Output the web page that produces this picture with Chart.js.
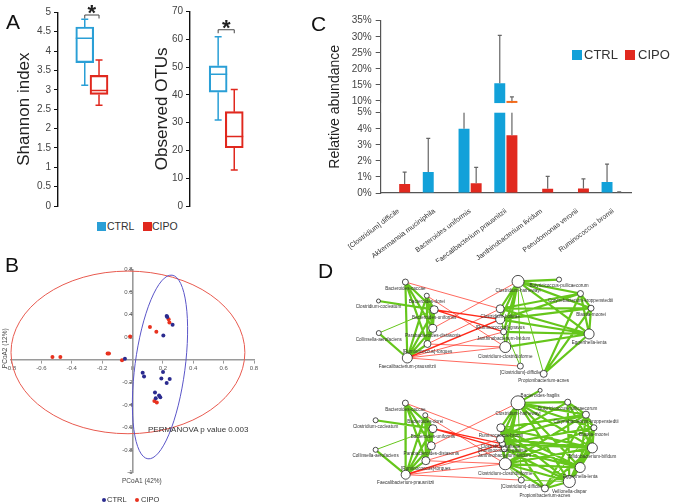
<!DOCTYPE html>
<html>
<head>
<meta charset="utf-8">
<script src="https://cdn.jsdelivr.net/npm/chart.js@4.4.1/dist/chart.umd.min.js"></script>
<style>
  body { margin: 0; background: #fff; font-family: "Liberation Sans", Arial, sans-serif; }
  #page { position: relative; width: 685px; height: 504px; overflow: hidden; }
  canvas { position: absolute; }
  .txt { position: absolute; color: #333; white-space: nowrap; line-height: 1; }
  .letter { font-size: 21px; color: #111; }
  .sq { position: absolute; }
  .dot { position: absolute; width: 4px; height: 4px; border-radius: 50%; }
</style>
</head>
<body>
<div id="page">
  <canvas id="shannon" width="128" height="215" style="left:0;top:0"></canvas>
  <canvas id="otus" width="135" height="215" style="left:130px;top:0"></canvas>
  <canvas id="abund" width="375" height="262" style="left:310px;top:0"></canvas>
  <canvas id="pcoa" width="290" height="242" style="left:0;top:262px"></canvas>
  <canvas id="network" width="395" height="236" style="left:290px;top:268px"></canvas>

  <div class="txt letter" style="left:6px;top:11px">A</div>
  <div class="txt letter" style="left:5px;top:254px">B</div>
  <div class="txt letter" style="left:311px;top:13px">C</div>
  <div class="txt letter" style="left:318px;top:260px">D</div>

  <!-- legend A -->
  <div class="sq" style="left:97px;top:222px;width:9px;height:9px;background:#2a9fd6"></div>
  <div class="txt" style="left:107px;top:221px;font-size:10.5px">CTRL</div>
  <div class="sq" style="left:143px;top:222px;width:9px;height:9px;background:#e0281e"></div>
  <div class="txt" style="left:152px;top:221px;font-size:10.5px">CIPO</div>

  <!-- legend C -->
  <div class="sq" style="left:572px;top:50px;width:10px;height:10px;background:#12a1d9"></div>
  <div class="txt" style="left:584px;top:48px;font-size:13px">CTRL</div>
  <div class="sq" style="left:625px;top:50px;width:10px;height:10px;background:#e1291f"></div>
  <div class="txt" style="left:638px;top:48px;font-size:13px">CIPO</div>

  <!-- panel B texts -->
  <div class="txt" style="left:148px;top:426px;font-size:8px">PERMANOVA p value 0.003</div>
  <div class="txt" style="left:122px;top:478px;font-size:6.5px;color:#444">PCoA1 (42%)</div>
  <div class="txt" style="left:-15px;top:345px;font-size:6.5px;color:#444;transform:rotate(-90deg)">PCoA2 (12%)</div>
  <div class="dot" style="left:102px;top:498px;background:#2b2b8f"></div>
  <div class="txt" style="left:107px;top:496px;font-size:7.5px">CTRL</div>
  <div class="dot" style="left:135px;top:498px;background:#e8321f"></div>
  <div class="txt" style="left:141px;top:496px;font-size:7.5px">CIPO</div>
</div>

<script>
Chart.defaults.font.family = '"Liberation Sans", Arial, sans-serif';
Chart.defaults.animation = false;
Chart.defaults.responsive = false;
Chart.defaults.plugins.legend.display = false;
Chart.defaults.plugins.tooltip.enabled = false;

const BLUE = '#2a9fd6';
const RED = '#e0281e';

// ---------- A: alpha diversity (min, q1, median, q3, max)
const groups = ['CTRL', 'CIPO'];
const shannonCtrl = [3.12, 3.70, 4.33, 4.62, 4.82];
const shannonCipo = [2.60, 2.88, 2.98, 3.37, 3.77];
const otuCtrl = [31, 41, 47.5, 50.5, 61];
const otuCipo = [13, 21, 25, 34, 42];

// ---------- C: relative abundance (%)
const species = ['[Clostridium] difficile', 'Akkermansia muciniphila', 'Bacteroides uniformis',
  'Faecalibacterium prausnitzii', 'Janthinobacterium lividum', 'Pseudomonas veronii', 'Ruminococcus bromii'];
const ctrlAbund = [0, 1.3, 4.0, 15.5, 0, 0, 0.68];
const ctrlErrTop = [null, 3.4, 6, 30.4, null, null, 1.8];
const cipoAbund = [0.56, 0, 0.6, 3.6, 0.27, 0.28, 0.03];
const cipoErrTop = [1.3, null, 1.6, 11.3, 1.03, 0.88, 0.07];
const cipoUpperMark = [null, null, null, 9.6, null, null, null];
const abundTicks = [0, 1, 2, 3, 4, 5, 10, 15, 20, 25, 30, 35];

// ---------- B: PCoA
const ctrlPcoa = [[0.225, 0.388], [0.229, 0.379], [0.264, 0.309], [0.203, 0.214], [0.067, -0.114],
  [0.076, -0.149], [0.201, -0.108], [0.19, -0.167], [0.225, -0.205], [0.245, -0.17], [0.148, -0.291],
  [0.153, -0.341], [0.175, -0.317], [0.183, -0.332], [-0.05, 0.01]];
const cipoPcoa = [[-0.527, 0.025], [-0.475, 0.025], [-0.164, 0.055], [-0.155, 0.055], [-0.069, -0.004],
  [-0.016, 0.205], [0.115, 0.291], [0.157, 0.249], [0.238, 0.359], [0.243, 0.329], [0.144, -0.365], [0.16, -0.379]];
// centre x, centre y, radius x, radius y, rotation (deg)
const cipoEllipse = [-0.03, 0.065, 0.77, 0.72, 0];
const ctrlEllipse = [0.181, -0.064, 0.165, 0.82, 7.5];

// ---------- D: co-occurrence networks (name, layout x, layout y, size)
const topNodes = [
  ['Bacteroides-caccae', 112, 6.7, 3], ['Clostridium-cocleatum', 84, 27, 2], ['Bacteroides-dorei', 134.3, 21.3, 2.5],
  ['Bacteroides-uniformis', 142, 36.3, 4], ['Collinsella-aerofaciens', 84.3, 61.3, 2.5],
  ['Parabacteroides-distasonis', 140.5, 56.3, 4], ['[Ruminococcus]-torques', 135, 73, 3.5],
  ['Faecalibacterium-prausnitzii', 114, 88, 5], ['Clostridium-hathewayi', 229.3, 6, 6],
  ['Butyricicoccus-pullicaecorum', 272, 4, 2.5], ['Corynebacterium-kroppenstedtii', 294.3, 19, 3],
  ['Blautia-moorei', 305.3, 34.7, 3], ['Eggerthella-lenta', 303.3, 62.3, 5], ['Propionibacterium-acnes', 256, 105, 3.5],
  ['[Clostridium]-difficile', 231.7, 96.7, 3], ['Clostridium-clostridioforme', 216, 76.3, 5.5],
  ['Janthinobacterium-lividum', 214.3, 60, 3], ['[Ruminococcus]-gnavus', 210.7, 46.7, 4.5],
  ['Clostridium-bolteae', 210.7, 35.3, 4]
];
const topGreenThick = [[0, 3], [0, 5], [0, 6], [0, 7], [1, 3], [2, 3], [2, 5], [2, 6], [3, 5], [3, 6], [3, 7], [5, 6],
  [5, 7], [6, 7], [4, 7], [2, 7], [8, 9], [8, 18], [8, 17], [8, 16], [8, 15], [8, 12], [8, 10], [12, 18], [12, 17],
  [12, 16], [12, 15], [10, 18], [10, 17], [11, 17], [13, 12], [13, 11], [13, 10], [10, 11], [11, 12], [10, 12],
  [8, 11], [11, 18]];
const topGreenThin = [[4, 3], [8, 14], [8, 13], [18, 15], [17, 14], [15, 16]];
const topRedThick = [[3, 17], [3, 16], [7, 17]];
const topRedThin = [[0, 18], [2, 15], [5, 8], [6, 18], [7, 16], [7, 15], [7, 14], [6, 15]];

const bottomNodes = [
  ['Bacteroides-caccae', 112, 136.3, 3], ['Clostridium-cocleatum', 81, 154.7, 2.5], ['Bacteroides-dorei', 132.7, 149.3, 2.5],
  ['Bacteroides-uniformis', 140.7, 163.7, 4], ['Collinsella-aerofaciens', 81, 186.3, 2.5],
  ['Parabacteroides-distasonis', 139, 182, 4], ['[Ruminococcus]-torques', 133.3, 198, 4],
  ['Faecalibacterium-prausnitzii', 112.3, 213, 4.5], ['Clostridium-hathewayi', 229.3, 136, 7],
  ['Bacteroides-fragilis', 252.3, 122.7, 2], ['Butyricicoccus-pullicaecorum', 281, 135.3, 3],
  ['Corynebacterium-kroppenstedtii', 300, 148.7, 3.5], ['Blautia-moorei', 308.3, 162.7, 3],
  ['Bifidobacterium-bifidum', 306.7, 184.3, 5], ['Eggerthella-lenta', 294, 205.3, 5], ['Veillonella-dispar', 282.7, 220.3, 6],
  ['Propionibacterium-acnes', 257.3, 227.7, 3.5], ['[Clostridium]-difficile', 232.7, 218.7, 3],
  ['Clostridium-clostridioforme', 216, 201.3, 6], ['Janthinobacterium-lividum', 215, 185.3, 3],
  ['[Ruminococcus]-gnavus', 213, 180, 3], ['Clostridium-bolteae', 211, 174.7, 4], ['Ruminococcus-bromii', 211.3, 162.7, 4]
];
const bottomGreenThick = [[0, 3], [0, 5], [0, 6], [0, 7], [1, 3], [2, 3], [2, 5], [2, 6], [3, 5], [3, 6], [3, 7], [5, 6],
  [5, 7], [6, 7], [4, 7], [2, 7], [8, 9], [8, 10], [8, 11], [8, 12], [8, 13], [8, 14], [8, 15], [8, 18], [8, 21], [8, 22],
  [8, 19], [10, 11], [10, 13], [10, 15], [10, 21], [11, 12], [11, 13], [11, 14], [11, 18], [11, 21], [11, 22], [12, 13],
  [12, 14], [12, 15], [12, 18], [13, 14], [13, 15], [13, 18], [13, 21], [13, 22], [13, 20], [14, 15], [14, 18], [14, 19],
  [14, 21], [14, 22], [15, 16], [15, 18], [15, 19], [15, 22], [16, 18], [16, 22], [16, 11], [16, 13], [18, 21], [18, 22],
  [19, 22], [21, 14], [22, 15], [20, 12]];
const bottomGreenThin = [[4, 3], [8, 17], [17, 18], [15, 17], [10, 12], [16, 12]];
const bottomRedThick = [[3, 20], [3, 19], [7, 20]];
const bottomRedThin = [[0, 21], [2, 18], [5, 8], [6, 21], [7, 19], [7, 17], [7, 18], [6, 18]];

// ---------- A: box plots
const boxPlugin = {
  id: 'boxes',
  afterDatasetsDraw(chart, args, opts) {
    const { ctx, scales: { x, y } } = chart;
    opts.boxes.forEach((b, i) => {
      const cx = x.getPixelForValue(i);
      const half = opts.half;
      ctx.save();
      ctx.strokeStyle = opts.colors[i];
      ctx.lineWidth = 1.5;
      ctx.beginPath();
      ctx.moveTo(cx - half, y.getPixelForValue(b[2]));
      ctx.lineTo(cx + half, y.getPixelForValue(b[2]));
      ctx.moveTo(cx, y.getPixelForValue(b[3]));
      ctx.lineTo(cx, y.getPixelForValue(b[4]));
      ctx.moveTo(cx, y.getPixelForValue(b[1]));
      ctx.lineTo(cx, y.getPixelForValue(b[0]));
      ctx.moveTo(cx - 3.5, y.getPixelForValue(b[4]));
      ctx.lineTo(cx + 3.5, y.getPixelForValue(b[4]));
      ctx.moveTo(cx - 3.5, y.getPixelForValue(b[0]));
      ctx.lineTo(cx + 3.5, y.getPixelForValue(b[0]));
      ctx.stroke();
      ctx.restore();
    });
    // significance bracket
    const x0 = x.getPixelForValue(0), x1 = x.getPixelForValue(1);
    const yb = y.getPixelForValue(opts.sig);
    ctx.save();
    ctx.strokeStyle = '#444';
    ctx.lineWidth = 1;
    ctx.beginPath();
    ctx.moveTo(x0, yb + 3.5);
    ctx.lineTo(x0, yb);
    ctx.lineTo(x1, yb);
    ctx.lineTo(x1, yb + 3.5);
    ctx.stroke();
    ctx.fillStyle = '#222';
    ctx.font = 'bold 22px "Liberation Sans", Arial, sans-serif';
    ctx.textAlign = 'center';
    ctx.fillText('*', (x0 + x1) / 2, yb + 5);
    ctx.restore();
  }
};

function boxChart(id, boxes, o) {
  return new Chart(document.getElementById(id), {
    type: 'bar',
    data: {
      datasets: [{
        data: boxes.map((b, i) => ({ x: i, y: [b[1], b[3]] })),
        backgroundColor: 'rgba(255,255,255,0)',
        borderColor: [BLUE, RED],
        borderWidth: 1.5,
        borderSkipped: false,
        barThickness: o.boxWidth
      }]
    },
    options: {
      layout: { padding: o.padding },
      plugins: { boxes: { boxes, colors: [BLUE, RED], sig: o.sig, half: o.boxWidth / 2 } },
      scales: {
        x: { type: 'linear', display: false, min: o.xMin, max: o.xMax },
        y: {
          min: 0, max: o.yMax,
          ticks: { stepSize: o.step, color: '#444', font: { size: 10 }, padding: 3, callback: v => String(+v.toFixed(1)) },
          grid: { drawOnChartArea: false, tickLength: 4, color: '#111' },
          border: { color: '#111', width: 1.4 },
          title: { display: true, text: o.title, color: '#222', font: { size: 17 }, padding: { top: o.titlePad, bottom: 0 } },
          afterFit: s => { s.width = o.axisWidth; }
        }
      }
    },
    plugins: [boxPlugin]
  });
}

boxChart('shannon', [shannonCtrl, shannonCipo], {
  boxWidth: 18, padding: { top: 12.3, bottom: 6.7, right: 2 }, xMin: -0.684, xMax: 1.7,
  yMax: 5, step: 0.5, title: 'Shannon index', titlePad: 14, axisWidth: 58, sig: 4.93
});
boxChart('otus', [otuCtrl, otuCipo], {
  boxWidth: 18, padding: { top: 11.7, bottom: 7, right: 2 }, xMin: -0.615, xMax: 1.652,
  yMax: 70, step: 10, title: 'Observed OTUs', titlePad: 22, axisWidth: 60, sig: 63.5
});

// ---------- C: broken-axis bar chart
function brk(v) {
  if (v <= 5) return v;
  if (v < 10) return 5 + (v - 5) * 0.146;
  return 5.73 + (v - 10) / 5;
}

const errorPlugin = {
  id: 'errs',
  afterDatasetsDraw(chart) {
    const { ctx, chartArea, scales: { y } } = chart;
    ctx.save();
    ctx.strokeStyle = '#666';
    ctx.lineWidth = 1.2;
    [ctrlErrTop, cipoErrTop].forEach((tops, di) => {
      const meta = chart.getDatasetMeta(di);
      meta.data.forEach((bar, i) => {
        if (tops[i] == null) return;
        const yt = y.getPixelForValue(brk(tops[i]));
        ctx.beginPath();
        ctx.moveTo(bar.x, bar.y);
        ctx.lineTo(bar.x, yt);
        ctx.moveTo(bar.x - 2, yt);
        ctx.lineTo(bar.x + 2, yt);
        ctx.stroke();
      });
    });
    // axis break
    const yHi = y.getPixelForValue(5.6), yLo = y.getPixelForValue(5);
    ctx.fillStyle = '#fff';
    ctx.fillRect(chartArea.left + 1, yHi, chartArea.width, yLo - yHi);
    // CIPO value above the break
    const meta = chart.getDatasetMeta(1);
    ctx.strokeStyle = '#f26a1b';
    ctx.lineWidth = 2;
    cipoUpperMark.forEach((v, i) => {
      if (v == null) return;
      const bar = meta.data[i];
      const ym = y.getPixelForValue(brk(v));
      ctx.beginPath();
      ctx.moveTo(bar.x - bar.width / 2, ym);
      ctx.lineTo(bar.x + bar.width / 2, ym);
      ctx.stroke();
    });
    ctx.restore();
  }
};

new Chart(document.getElementById('abund'), {
  type: 'bar',
  data: {
    labels: species,
    datasets: [
      { label: 'CTRL', data: ctrlAbund.map(brk), backgroundColor: '#12a1d9', categoryPercentage: 0.68, barPercentage: 0.9 },
      { label: 'CIPO', data: cipoAbund.map(brk), backgroundColor: '#e1291f', categoryPercentage: 0.68, barPercentage: 0.9 }
    ]
  },
  options: {
    layout: { padding: { top: 20.7, right: 54 } },
    scales: {
      x: {
        grid: { display: false },
        border: { color: '#555', width: 1.2 },
        ticks: { color: '#333', font: { size: 7 }, minRotation: 37, maxRotation: 37, autoSkip: false, padding: 6 },
        afterFit: s => { s.height = 69; }
      },
      y: {
        min: 0, max: brk(35),
        afterBuildTicks: s => { s.ticks = abundTicks.map(v => ({ value: brk(v) })); },
        ticks: { autoSkip: false, callback: (v, i) => abundTicks[i] + '%', color: '#444', font: { size: 10 }, padding: 4 },
        grid: { drawOnChartArea: false, tickLength: 5, color: '#555' },
        border: { color: '#555', width: 1.2 },
        title: { display: true, text: 'Relative abundance', color: '#222', font: { size: 14 }, padding: { top: 16.6, bottom: 0 } },
        afterFit: s => { s.width = 70.7; }
      }
    }
  },
  plugins: [errorPlugin]
});

// ---------- B: PCoA scatter
const ellipsePlugin = {
  id: 'ellipses',
  beforeDatasetsDraw(chart) {
    const { ctx, scales: { x, y } } = chart;
    [[cipoEllipse, '#e85a4f'], [ctrlEllipse, '#5a55c8']].forEach(([e, col]) => {
      const cx = x.getPixelForValue(e[0]), cy = y.getPixelForValue(e[1]);
      const rx = Math.abs(x.getPixelForValue(e[0] + e[2]) - cx);
      const ry = Math.abs(y.getPixelForValue(e[1] + e[3]) - cy);
      ctx.save();
      ctx.strokeStyle = col;
      ctx.lineWidth = 1;
      ctx.beginPath();
      ctx.ellipse(cx, cy, rx, ry, e[4] * Math.PI / 180, 0, Math.PI * 2);
      ctx.stroke();
      ctx.restore();
    });
  }
};

const fmt = v => (Math.abs(v) < 1e-9 ? '0' : String(+v.toFixed(1)));

new Chart(document.getElementById('pcoa'), {
  type: 'scatter',
  data: {
    datasets: [
      { data: ctrlPcoa.map(p => ({ x: p[0], y: p[1] })), backgroundColor: '#2b2b8f', borderWidth: 0, pointRadius: 2 },
      { data: cipoPcoa.map(p => ({ x: p[0], y: p[1] })), backgroundColor: '#e8321f', borderWidth: 0, pointRadius: 2 }
    ]
  },
  options: {
    layout: { padding: { left: 11, right: 36, top: 7.4, bottom: 31.3 } },
    scales: {
      x: {
        type: 'linear', position: { y: 0 }, min: -0.8, max: 0.8,
        ticks: { stepSize: 0.2, color: '#555', font: { size: 6 }, padding: 2, autoSkip: false, maxRotation: 0, callback: fmt },
        grid: { drawOnChartArea: false, tickLength: 3, color: '#999' },
        border: { color: '#9a9a9a', width: 1.6 }
      },
      y: {
        type: 'linear', position: { x: 0 }, min: -1, max: 0.8,
        ticks: { stepSize: 0.2, color: '#555', font: { size: 6 }, padding: 2, autoSkip: false, callback: v => (Math.abs(v) < 1e-9 ? '' : fmt(v)) },
        grid: { drawOnChartArea: false, tickLength: 3, color: '#999' },
        border: { color: '#9a9a9a', width: 1.6 }
      }
    }
  },
  plugins: [ellipsePlugin]
});

// ---------- D: networks
function edgeSet(nodes, pairs, color, width) {
  const data = [];
  pairs.forEach(([a, b]) => {
    data.push({ x: nodes[a][1], y: nodes[a][2] }, { x: nodes[b][1], y: nodes[b][2] }, { x: NaN, y: NaN });
  });
  return { data, showLine: true, borderColor: color, borderWidth: width, pointRadius: 0, clip: false, order: 2 };
}

function nodeSet(nodes) {
  return {
    data: nodes.map(n => ({ x: n[1], y: n[2] })),
    pointRadius: nodes.map(n => n[3]),
    pointBackgroundColor: '#fff',
    pointBorderColor: '#222',
    pointBorderWidth: 0.8,
    showLine: false,
    clip: false,
    order: 0
  };
}

const GREEN = '#66c61c';
const NETRED = '#ff2a1a';

const labelPlugin = {
  id: 'nodeLabels',
  afterDatasetsDraw(chart) {
    const { ctx, scales: { x, y } } = chart;
    ctx.save();
    ctx.fillStyle = '#333';
    ctx.font = '4.6px "Liberation Sans", Arial, sans-serif';
    ctx.textAlign = 'center';
    ctx.textBaseline = 'top';
    [topNodes, bottomNodes].forEach(nodes => {
      nodes.forEach(n => {
        ctx.fillText(n[0], x.getPixelForValue(n[1]), y.getPixelForValue(n[2]) + n[3] + 1.5);
      });
    });
    ctx.restore();
  }
};

new Chart(document.getElementById('network'), {
  type: 'scatter',
  data: {
    datasets: [
      nodeSet(topNodes),
      nodeSet(bottomNodes),
      edgeSet(topNodes, topRedThin, NETRED, 0.7),
      edgeSet(topNodes, topRedThick, NETRED, 1.4),
      edgeSet(topNodes, topGreenThin, GREEN, 1),
      edgeSet(topNodes, topGreenThick, GREEN, 2.2),
      edgeSet(bottomNodes, bottomRedThin, NETRED, 0.7),
      edgeSet(bottomNodes, bottomRedThick, NETRED, 1.4),
      edgeSet(bottomNodes, bottomGreenThin, GREEN, 1),
      edgeSet(bottomNodes, bottomGreenThick, GREEN, 2.2)
    ]
  },
  options: {
    layout: { padding: 0 },
    scales: {
      x: { type: 'linear', display: false, min: 0, max: 395 },
      y: { type: 'linear', display: false, min: 0, max: 236, reverse: true }
    }
  },
  plugins: [labelPlugin]
});
</script>
</body>
</html>
